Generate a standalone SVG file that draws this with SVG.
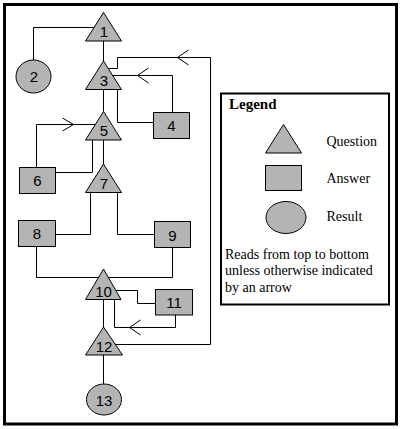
<svg xmlns="http://www.w3.org/2000/svg" width="400" height="429" viewBox="0 0 400 429">
<style>
.ln{fill:none;stroke:#000;stroke-width:1}
.nd{fill:#b4b4b4;stroke:#000;stroke-width:1}
.num{font-family:"Liberation Sans",Arial,sans-serif;font-size:15px;fill:#000;text-anchor:middle}
.lg{font-family:"Liberation Serif","Times New Roman",serif;font-size:14px;fill:#000}
.lgt{font-family:"Liberation Serif","Times New Roman",serif;font-size:15px;font-weight:bold;fill:#000}
</style>
<rect x="0" y="0" width="400" height="429" fill="#fff"/>
<rect x="4.5" y="4.5" width="392" height="419.5" fill="none" stroke="#000" stroke-width="3"/>
<g id="connectors">
<path class="ln" d="M33.5,60 V27.5 H94"/>
<path class="ln" d="M103.5,41 V61"/>
<path class="ln" d="M103.5,89.5 V111.5"/>
<path class="ln" d="M117.5,89.5 V122.5 H153.5"/>
<path class="ln" d="M172.5,112.5 V75.5 H113"/>
<path class="ln" d="M148.5,68 L137.5,75.5 L148.5,83"/>
<path class="ln" d="M115,344.5 H210.5 V57.5 H117.5 V68.5 H107.5"/>
<path class="ln" d="M188.5,50 L177.5,57.5 L188.5,65"/>
<path class="ln" d="M36.5,167.5 V124.5 H95"/>
<path class="ln" d="M62.5,118 L73.5,124.5 L62.5,131"/>
<path class="ln" d="M55.5,172.5 H92.5 V140"/>
<path class="ln" d="M103.5,140 V164"/>
<path class="ln" d="M90.5,192.5 V234.5 H55.5"/>
<path class="ln" d="M117.5,192.5 V234.5 H154.5"/>
<path class="ln" d="M36.5,246.5 V277.5 H172.5 V247.5"/>
<path class="ln" d="M116,290.5 H137.5 V303.5 H155.5"/>
<path class="ln" d="M175.5,315 V327.5 H114.5 V299.5"/>
<path class="ln" d="M140.5,320 L129.5,327.5 L140.5,335"/>
<path class="ln" d="M103.5,299.5 V327"/>
<path class="ln" d="M103.5,355 V384"/>
</g>
<g id="n1"><polygon class="nd" points="103.5,12.5 121.5,41 85.5,41"/><text class="num" x="104" y="37">1</text></g>
<g id="n2"><ellipse class="nd" cx="33.5" cy="76.5" rx="17.5" ry="16.5"/><text class="num" x="34" y="82">2</text></g>
<g id="n3"><polygon class="nd" points="103.5,61 121.5,89.5 85.5,89.5"/><text class="num" x="104" y="85.5">3</text></g>
<g id="n4"><rect class="nd" x="153.5" y="112.5" width="36" height="26"/><text class="num" x="171.5" y="131">4</text></g>
<g id="n5"><polygon class="nd" points="103.5,111.5 121.5,140 85.5,140"/><text class="num" x="104" y="135.5">5</text></g>
<g id="n6"><rect class="nd" x="19.5" y="167.5" width="36" height="26"/><text class="num" x="37.5" y="186">6</text></g>
<g id="n7"><polygon class="nd" points="103.5,164 121.5,192.5 85.5,192.5"/><text class="num" x="104" y="189">7</text></g>
<g id="n8"><rect class="nd" x="18.5" y="220.5" width="37" height="26"/><text class="num" x="37" y="239">8</text></g>
<g id="n9"><rect class="nd" x="154.5" y="221.5" width="36" height="26"/><text class="num" x="172.5" y="240.5">9</text></g>
<g id="n10"><polygon class="nd" points="103.5,269 121,299.5 85.5,299.5"/><text class="num" x="103.5" y="297">10</text></g>
<g id="n11"><rect class="nd" x="155.5" y="289.5" width="37" height="25.5"/><text class="num" x="174" y="308">11</text></g>
<g id="n12"><polygon class="nd" points="103.5,327 122.5,355 85.5,355"/><text class="num" x="104" y="352">12</text></g>
<g id="n13"><ellipse class="nd" cx="104" cy="399.5" rx="17.5" ry="15.5"/><text class="num" x="104" y="405.5">13</text></g>
<g id="legend">
<rect x="221" y="93.5" width="168" height="211" fill="#fff" stroke="#000" stroke-width="2"/>
<text class="lgt" x="229" y="109">Legend</text>
<polygon class="nd" points="283.5,124.5 301.5,153 265.5,153"/>
<text class="lg" x="326.5" y="145.5">Question</text>
<rect class="nd" x="265.5" y="165.5" width="36" height="25"/>
<text class="lg" x="326.5" y="183">Answer</text>
<ellipse class="nd" cx="286" cy="217.5" rx="20" ry="16"/>
<text class="lg" x="326.5" y="221">Result</text>
<text class="lg" x="225" y="258.5">Reads from top to bottom</text>
<text class="lg" x="225" y="275">unless otherwise indicated</text>
<text class="lg" x="225" y="291.5">by an arrow</text>
</g>
</svg>
